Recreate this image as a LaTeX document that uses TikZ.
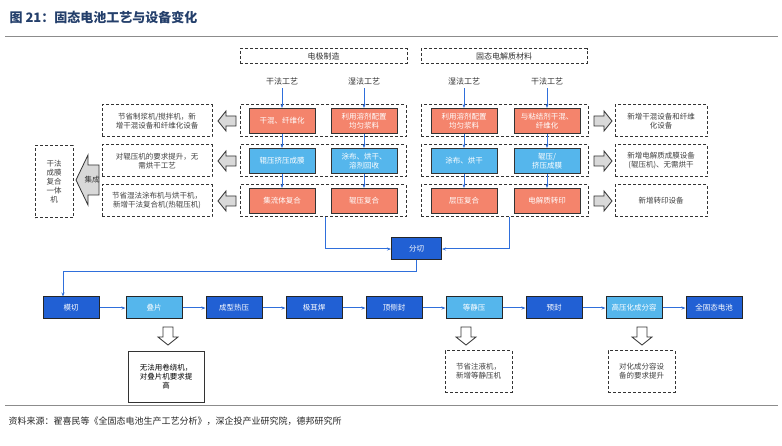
\documentclass[tikz,border=0pt]{standalone}
\usepackage{fontspec}
\setmainfont{Noto Sans CJK SC}
\newfontfamily\cjk{Noto Sans CJK SC}
\usetikzlibrary{arrows.meta}
\definecolor{salmon}{HTML}{F4846C}
\definecolor{lblue}{HTML}{55B6EC}
\definecolor{dblue}{HTML}{2160D4}
\definecolor{ablue}{HTML}{2F6FDB}
\definecolor{ttl}{HTML}{243F6B}
\tikzset{
 grp/.style={draw=black!80,dashed,line width=1pt,dash pattern=on 3pt off 2pt},
 note/.style={grp,align=center,font=\fontsize{7.5}{9}\selectfont,text=black!75,inner sep=1pt},
 box/.style={draw=black!80,line width=1pt,align=center,font=\fontsize{7.5}{9}\selectfont,text=white,inner sep=1pt},
 sal/.style={box,fill=salmon,minimum width=66pt,minimum height=25pt},
 lb/.style={box,fill=lblue,minimum width=66pt,minimum height=25pt},
 pb/.style={box,fill=dblue,draw=black!85,minimum width=56pt,minimum height=22pt},
 pl/.style={pb,fill=lblue},
 hollow/.pic={\draw[black!80,line width=0.8pt,fill=#1] (-9,-5) -- (1,-5) -- (1,-10) -- (9,0) -- (1,10) -- (1,5) -- (-9,5) -- cycle;},
 ar/.style={ablue,line width=1pt,-{Stealth[length=4pt]}},
 lab/.style={font=\fontsize{8}{9.5}\selectfont,text=black!80}
}
\begin{document}
\begin{tikzpicture}[x=1pt,y=-1pt]
\useasboundingbox (0,0) rectangle (782,446);
\fill[white] (0,0) rectangle (782,446);
\node[anchor=west,text=ttl,font=\fontsize{13}{15}\bfseries] (title) at (6,17) {图 21：固态电池工艺与设备变化};
\draw[black!45,line width=1pt] (5,37) -- (778,37);
% top headers
\node[grp,minimum width=167pt,minimum height=14pt,lab] (h1) at (323.5,56) {电极制造};
\node[grp,minimum width=166pt,minimum height=14pt,lab] (h2) at (504,56) {固态电解质材料};
\node[lab] (t1) at (282,81) {干法工艺};
\node[lab] (t2) at (364,81) {湿法工艺};
\node[lab] (t3) at (464,81) {湿法工艺};
\node[lab] (t4) at (547,81) {干法工艺};
% groups
\foreach \y/\n in {121/1,161/2,201/3}{
 \node[grp,minimum width=166pt,minimum height=32pt] (gl\n) at (323,\y) {};
 \node[grp,minimum width=167pt,minimum height=32pt] (gr\n) at (504.5,\y) {};
}
\node[sal] (a1) at (282,121) {干混、纤维化};
\node[sal] (b1) at (364,121) {利用溶剂配置\\均匀浆料};
\node[lb] (a2) at (282,161) {辊压挤压成膜};
\node[lb] (b2) at (364,161) {涂布、烘干、\\溶剂回收};
\node[sal] (a3) at (282,201) {集流体复合};
\node[sal] (b3) at (364,201) {辊压复合};
\node[sal] (c1) at (464,121) {利用溶剂配置\\均匀浆料};
\node[sal] (d1) at (547,121) {与粘结剂干混、\\纤维化};
\node[lb] (c2) at (464,161) {涂布、烘干};
\node[lb] (d2) at (547,161) {辊压/\\挤压成膜};
\node[sal] (c3) at (464,201) {层压复合};
\node[sal] (d3) at (547,201) {电解质转印};
\foreach \p/\q in {t1/a1,t2/b1,t3/c1,t4/d1,a1/a2,a2/a3,b1/b2,b2/b3,c1/c2,c2/c3,d1/d2,d2/d3}
 \draw[ar] (\p) -- (\q);
% left notes
\node[note,minimum width=110pt,minimum height=32pt] (n1) at (157,121) {节省制浆机/搅拌机，新\\增干混设备和纤维化设备};
\node[note,minimum width=110pt,minimum height=32pt] (n2) at (157,161) {对辊压机的要求提升，无\\需烘干工艺};
\node[note,minimum width=110pt,minimum height=32pt] (n3) at (157,201) {节省湿法涂布机与烘干机，\\新增干法复合机(热辊压机)};
\foreach \y in {121,161,201}{
 \pic[rotate=180] at (227,\y) {hollow=black!15};
 \pic at (603,\y) {hollow=black!15};
}
\node[note,minimum width=92pt,minimum height=32pt] (m1) at (661,121) {新增干混设备和纤维\\化设备};
\node[note,minimum width=92pt,minimum height=32pt] (m2) at (661,161) {新增电解质成膜设备\\(辊压机)、无需烘干};
\node[note,minimum width=92pt,minimum height=32pt] (m3) at (661,201) {新增转印设备};
\node[note,minimum width=38pt,minimum height=72pt] (ym) at (54,182) {干法\\成膜\\复合\\一体\\机};
\draw[black!80,line width=0.8pt,fill=black!15] (76,180) -- (88,155) -- (88,165) -- (99,165) -- (99,195) -- (88,195) -- (88,205) -- cycle;
\node[font=\fontsize{7.5}{9}\selectfont,text=black!80] (jc) at (92,180) {集成};
% 分切
\node[pb,minimum width=50pt] (fq) at (416.5,249) {分切};
\coordinate (la) at (325,217);
\coordinate (ra) at (509,217);
\draw[ar] (la) |- (fq.west);
\draw[ar] (ra) |- (fq.east);
% bottom row
\node[pb] (p1) at (71,308) {模切};
\node[pl] (p2) at (154,308) {叠片};
\node[pb] (p3) at (234,308) {成型热压};
\node[pb] (p4) at (314,308) {极耳焊};
\node[pb] (p5) at (394,308) {顶侧封};
\node[pl] (p6) at (474,308) {等静压};
\node[pb] (p7) at (554,308) {预封};
\node[pl] (p8) at (634,308) {高压化成分容};
\node[pb] (p9) at (714,308) {全固态电池};
\coordinate (k1) at (416.5,272);
\coordinate (k2) at (63,272);
\draw[ar] (fq.south) -- (k1) -- (k2) -- (p1.north -| k2);
\foreach \p/\q in {p1/p2,p2/p3,p3/p4,p4/p5,p5/p6,p6/p7,p7/p8,p8/p9}
 \draw[ar] (\p) -- (\q);
\pic[rotate=-90] at (168,336) {hollow=white};
\pic[rotate=-90] at (466,336) {hollow=white};
\pic[rotate=-90] at (642,336) {hollow=white};
\node[draw=black!80,line width=0.8pt,align=center,font=\fontsize{7.5}{9}\selectfont,minimum width=76pt,minimum height=51pt,inner sep=1pt] (q1) at (166,376.5) {无法用卷绕机，\\对叠片机要求提\\高};
\node[note,minimum width=67pt,minimum height=41pt] (q2) at (478.5,371.5) {节省注液机，\\新增等静压机};
\node[note,minimum width=67pt,minimum height=41pt] (q3) at (641.5,371.5) {对化成分容设\\备的要求提升};
\draw[black!45,line width=1pt] (5,405) -- (778,405);
\node[anchor=west,font=\fontsize{9}{11}\selectfont,text=black!85] (src) at (5,421) {资料来源：翟喜民等《全固态电池生产工艺分析》，深企投产业研究院，德邦研究所};
\end{tikzpicture}
\end{document}
